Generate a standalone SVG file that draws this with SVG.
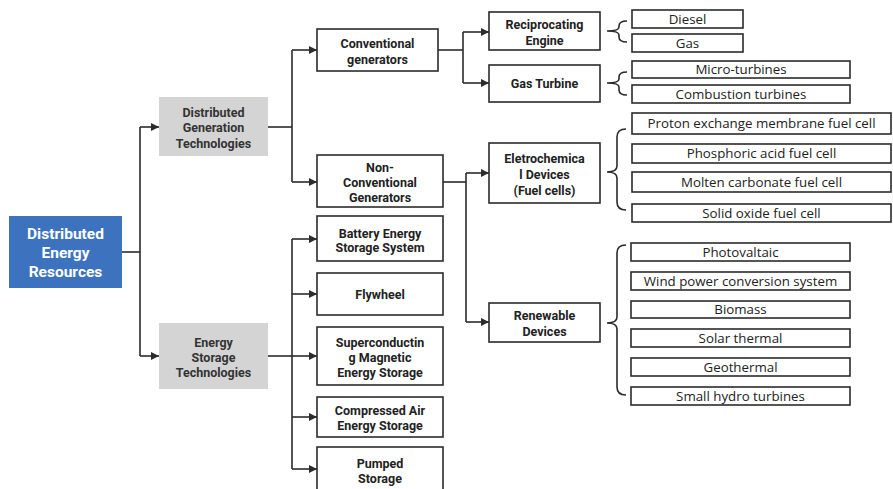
<svg xmlns="http://www.w3.org/2000/svg" width="893" height="489" viewBox="0 0 893 489">
<defs>
<marker id="arr" viewBox="0 0 10 10" refX="10" refY="5" markerWidth="10" markerHeight="8" markerUnits="userSpaceOnUse" orient="auto">
<path d="M0,0 L10,5 L0,10 z" fill="#2b2b2b"/>
</marker>
<style>
.bx{fill:#fff;stroke:#2b2b2b;stroke-width:1.6}
.gr{fill:#d4d4d4;stroke:none}
.bl{fill:#3d72bf;stroke:none}
.t{font-family:Roboto,"Open Sans","DejaVu Sans",sans-serif;font-weight:700;font-size:12.5px;fill:#222;text-anchor:middle}
.tg{font-family:Roboto,"Open Sans","DejaVu Sans",sans-serif;font-weight:700;font-size:12.5px;fill:#333;text-anchor:middle}
.tw{font-family:Roboto,"Open Sans","DejaVu Sans",sans-serif;font-weight:700;font-size:15.5px;fill:#fff;text-anchor:middle}
.tl{font-family:"Open Sans","Noto Sans","DejaVu Sans",sans-serif;font-size:13.3px;fill:#222;text-anchor:middle}
.ln{fill:none;stroke:#2b2b2b;stroke-width:1.6}
.ar{fill:none;stroke:#2b2b2b;stroke-width:1.6;marker-end:url(#arr)}
</style>
</defs>
<rect width="893" height="489" fill="#fff"/>

<g id="connectors">
<path class="ln" d="M122,252 H140"/>
<path class="ln" d="M140,127 V356"/>
<path class="ar" d="M140,127 H159"/>
<path class="ar" d="M140,356 H159"/>
<path class="ln" d="M268,127 H292"/>
<path class="ln" d="M292,50 V182"/>
<path class="ar" d="M292,50 H317"/>
<path class="ar" d="M292,182 H317"/>
<path class="ln" d="M268,356 H292"/>
<path class="ln" d="M292,239 V469"/>
<path class="ar" d="M292,239 H317"/>
<path class="ar" d="M292,294 H317"/>
<path class="ar" d="M292,356 H317"/>
<path class="ar" d="M292,417 H317"/>
<path class="ar" d="M292,469 H317"/>
<path class="ln" d="M438,50 H463"/>
<path class="ln" d="M463,32 V83"/>
<path class="ar" d="M463,32 H489"/>
<path class="ar" d="M463,83 H489"/>
<path class="ln" d="M443,182 H466"/>
<path class="ln" d="M466,173 V322"/>
<path class="ar" d="M466,173 H489"/>
<path class="ar" d="M466,322 H489"/>
<path class="ln" d="M627,21 Q619,21 619,26 L619,27 Q619,31 607,31 Q619,31 619,35 L619,37 Q619,42 627,42"/>
<path class="ln" d="M627,72 Q619,72 619,77 L619,79 Q619,83 607,83 Q619,83 619,87 L619,90 Q619,95 627,95"/>
<path class="ln" d="M626,129 Q617,129 617,137 L617,166 Q617,172 607,172 Q617,172 617,178 L617,202 Q617,210 626,210"/>
<path class="ln" d="M626,245 Q617,245 617,253 L617,317 Q617,323 607,323 Q617,323 617,329 L617,387 Q617,395 626,395"/>
</g>

<g id="der">
<rect class="bl" x="9" y="216" width="113" height="72"/>
<text class="tw" x="65.5" y="238.5">Distributed</text>
<text class="tw" x="65.5" y="257.5">Energy</text>
<text class="tw" x="65.5" y="276.5">Resources</text>
</g>

<g id="dg">
<rect class="gr" x="159" y="97" width="109" height="59"/>
<text class="tg" x="213.5" y="116.5">Distributed</text>
<text class="tg" x="213.5" y="132">Generation</text>
<text class="tg" x="213.5" y="147.5">Technologies</text>
</g>

<g id="es">
<rect class="gr" x="159" y="323" width="109" height="66"/>
<text class="tg" x="213.5" y="346.5">Energy</text>
<text class="tg" x="213.5" y="361.5">Storage</text>
<text class="tg" x="213.5" y="376.5">Technologies</text>
</g>

<g id="conv">
<rect class="bx" x="317" y="29" width="121" height="42"/>
<text class="t" x="377.5" y="47.5">Conventional</text>
<text class="t" x="377.5" y="63.5">generators</text>
</g>

<g id="nonconv">
<rect class="bx" x="317" y="155" width="126" height="52"/>
<text class="t" x="380" y="171.5">Non-</text>
<text class="t" x="380" y="186.5">Conventional</text>
<text class="t" x="380" y="202">Generators</text>
</g>

<g id="battery">
<rect class="bx" x="317" y="216" width="126" height="45"/>
<text class="t" x="380" y="237.5">Battery Energy</text>
<text class="t" x="380" y="252">Storage System</text>
</g>

<g id="flywheel">
<rect class="bx" x="317" y="273" width="126" height="42"/>
<text class="t" x="380" y="298.5">Flywheel</text>
</g>

<g id="smes">
<rect class="bx" x="317" y="327" width="126" height="58"/>
<text class="t" x="380" y="346.5">Superconductin</text>
<text class="t" x="380" y="361.5">g Magnetic</text>
<text class="t" x="380" y="376.5">Energy Storage</text>
</g>

<g id="caes">
<rect class="bx" x="317" y="397" width="126" height="40"/>
<text class="t" x="380" y="414.5">Compressed Air</text>
<text class="t" x="380" y="429.5">Energy Storage</text>
</g>

<g id="pumped">
<rect class="bx" x="317" y="447" width="126" height="46"/>
<text class="t" x="380" y="467.5">Pumped</text>
<text class="t" x="380" y="482.5">Storage</text>
</g>

<g id="recip">
<rect class="bx" x="489" y="12" width="111" height="38"/>
<text class="t" x="544.5" y="28.5">Reciprocating</text>
<text class="t" x="544.5" y="44.5">Engine</text>
</g>

<g id="gasturbine">
<rect class="bx" x="489" y="65" width="111" height="37"/>
<text class="t" x="544.5" y="87.5">Gas Turbine</text>
</g>

<g id="electro">
<rect class="bx" x="489" y="143" width="111" height="60"/>
<text class="t" x="544.5" y="162.5">Eletrochemica</text>
<text class="t" x="544.5" y="178.5">l Devices</text>
<text class="t" x="544.5" y="194.5">(Fuel cells)</text>
</g>

<g id="renewable">
<rect class="bx" x="489" y="303" width="111" height="39"/>
<text class="t" x="544.5" y="319.5">Renewable</text>
<text class="t" x="544.5" y="335.5">Devices</text>
</g>

<g id="diesel"><rect class="bx" x="632" y="10" width="111" height="18"/><text class="tl" x="687.5" y="23.8">Diesel</text></g>
<g id="gas"><rect class="bx" x="632" y="34" width="111" height="18"/><text class="tl" x="687.5" y="47.8">Gas</text></g>
<g id="micro"><rect class="bx" x="632" y="61" width="218" height="17"/><text class="tl" x="741" y="74.3">Micro-turbines</text></g>
<g id="combustion"><rect class="bx" x="632" y="85" width="218" height="18"/><text class="tl" x="741" y="98.8">Combustion turbines</text></g>

<g id="pem"><rect class="bx" x="632" y="113" width="259" height="21"/><text class="tl" x="761.5" y="128.3">Proton exchange membrane fuel cell</text></g>
<g id="pafc"><rect class="bx" x="632" y="144" width="259" height="19"/><text class="tl" x="761.5" y="158.3">Phosphoric acid fuel cell</text></g>
<g id="mcfc"><rect class="bx" x="632" y="172" width="259" height="20"/><text class="tl" x="761.5" y="186.8">Molten carbonate fuel cell</text></g>
<g id="sofc"><rect class="bx" x="632" y="204" width="259" height="18"/><text class="tl" x="761.5" y="217.8">Solid oxide fuel cell</text></g>

<g id="pv"><rect class="bx" x="631" y="243" width="219" height="18"/><text class="tl" x="740.5" y="256.8">Photovaltaic</text></g>
<g id="wind"><rect class="bx" x="631" y="272" width="219" height="18"/><text class="tl" x="740.5" y="285.8">Wind power conversion system</text></g>
<g id="biomass"><rect class="bx" x="631" y="301" width="219" height="17"/><text class="tl" x="740.5" y="314.3">Biomass</text></g>
<g id="solar"><rect class="bx" x="631" y="329" width="219" height="18"/><text class="tl" x="740.5" y="342.8">Solar thermal</text></g>
<g id="geo"><rect class="bx" x="631" y="358" width="219" height="18"/><text class="tl" x="740.5" y="371.8">Geothermal</text></g>
<g id="hydro"><rect class="bx" x="631" y="387" width="219" height="18"/><text class="tl" x="740.5" y="400.8">Small hydro turbines</text></g>
</svg>
